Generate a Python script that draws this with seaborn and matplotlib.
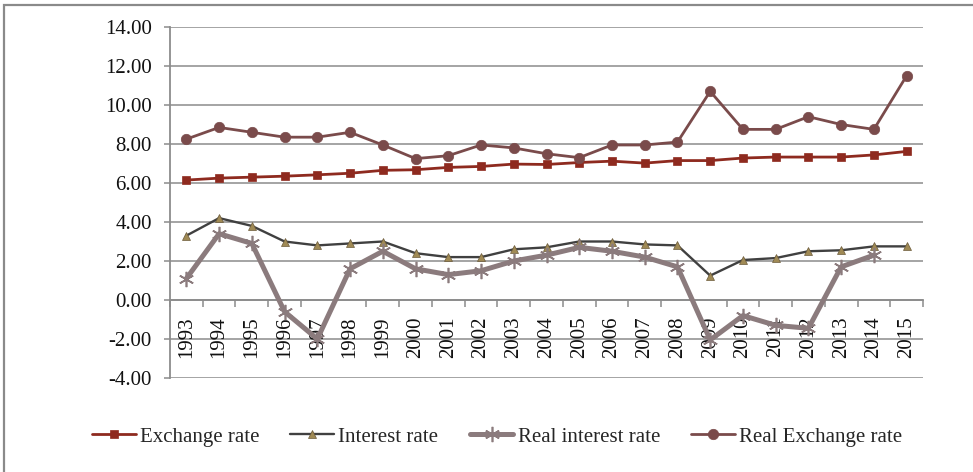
import numpy as np
import pandas as pd
import matplotlib
matplotlib.use("Agg")
import matplotlib.pyplot as plt
import seaborn as sns
from matplotlib.patches import Rectangle

# values
years = list(range(1993, 2016))
exchange_rate = [6.15, 6.25, 6.30, 6.35, 6.42, 6.50, 6.65, 6.68, 6.80, 6.85, 6.97, 6.95,
                 7.05, 7.12, 7.02, 7.15, 7.15, 7.28, 7.33, 7.33, 7.33, 7.44, 7.62]
interest_rate = [3.30, 4.20, 3.80, 3.00, 2.80, 2.90, 3.00, 2.40, 2.20, 2.20, 2.60, 2.70,
                 3.00, 3.00, 2.85, 2.80, 1.25, 2.05, 2.15, 2.50, 2.55, 2.75, 2.75]
real_interest_rate = [1.10, 3.40, 2.90, -0.60, -2.00, 1.60, 2.50, 1.60, 1.30, 1.50, 2.00, 2.30,
                      2.70, 2.50, 2.20, 1.70, -2.05, -0.80, -1.30, -1.45, 1.70, 2.30, np.nan]
real_exchange_rate = [8.25, 8.85, 8.60, 8.35, 8.35, 8.60, 7.95, 7.25, 7.40, 7.95, 7.80, 7.50,
                      7.30, 7.95, 7.95, 8.10, 10.70, 8.75, 8.75, 9.40, 9.00, 8.75, 11.50]

series = ["Exchange rate", "Interest rate", "Real interest rate", "Real Exchange rate"]
df = pd.DataFrame({"year": years,
                   "Exchange rate": exchange_rate,
                   "Interest rate": interest_rate,
                   "Real interest rate": real_interest_rate,
                   "Real Exchange rate": real_exchange_rate})

sns.set_theme(style="white")
plt.rcParams["font.family"] = ["Liberation Serif", "DejaVu Serif"]

fig = plt.figure(figsize=(9.73, 4.72), dpi=100)
ax = fig.add_axes([170/973, 1 - 378/472, (923 - 170)/973, (378 - 27)/472])

grid_col = "#8c8c8c"
for y in np.arange(-4, 15, 2):
    ax.axhline(y, color=grid_col, lw=1.1, zorder=0)

# styles per series
styles = {
    "Exchange rate": dict(color="#8e2a1f", lw=2.0, marker="s", markersize=6,
                          markerfacecolor="#8e2a1f", markeredgecolor="#8e2a1f", markeredgewidth=0.5),
    "Interest rate": dict(color="#404040", lw=1.7, marker="^", markersize=5.5,
                          markerfacecolor="#a08a55", markeredgecolor="#6b5a3a", markeredgewidth=0.5),
    "Real interest rate": dict(color="#8b7b7d", lw=3.6, marker=(6, 2, 0), markersize=11,
                               markerfacecolor="#8b7b7d", markeredgecolor="#8b7b7d", markeredgewidth=1.2),
    "Real Exchange rate": dict(color="#7a4b4b", lw=2.0, marker="o", markersize=7.5,
                               markerfacecolor="#7a4b4b", markeredgecolor="#7a4b4b", markeredgewidth=0.5),
}

for i, name in enumerate(series):
    st = styles[name]
    sub = df[["year", name]].dropna()
    sns.lineplot(data=sub, x="year", y=name, ax=ax, label=name, zorder=3 + i, **st)

ax.set_xlim(years[0] - 0.5, years[-1] + 0.5)
ax.set_ylim(-4, 14)
ax.set_xlabel("")
ax.set_ylabel("")

for s in ["top", "right"]:
    ax.spines[s].set_visible(False)
ax.spines["left"].set_color(grid_col)
ax.spines["left"].set_linewidth(1.3)
ax.spines["bottom"].set_position(("data", 0))
ax.spines["bottom"].set_color(grid_col)
ax.spines["bottom"].set_linewidth(1.3)

ax.set_yticks(np.arange(-4, 15, 2))
ax.set_yticklabels([f"{v:.2f}" for v in np.arange(-4, 15, 2)])
ax.tick_params(axis="y", which="major", direction="out", length=4, width=1.1,
               color=grid_col, pad=9, labelsize=15, labelcolor="#111111", left=True)

ax.set_xticks(years)
ax.set_xticklabels([str(y) for y in years], rotation=90)
ax.set_xticks(np.arange(years[0] - 0.5, years[-1] + 1, 1), minor=True)
ax.tick_params(axis="x", which="major", length=0, pad=12, labelsize=15, labelcolor="#111111")
ax.tick_params(axis="x", which="minor", direction="out", length=5, width=1.1,
               color=grid_col, bottom=True)
for lab in ax.get_xticklabels():
    lab.set_va("top")

handles, labels = ax.get_legend_handles_labels()
ax.get_legend().remove()
fig.legend(handles, labels, loc="center", bbox_to_anchor=(497/973, 1 - 437/472), ncol=4,
           frameon=False, fontsize=15, handlelength=2.1, handletextpad=0.2,
           columnspacing=1.5)

# outer chart frame (only top and left visible in the picture)
fig.patches.append(Rectangle((4/973, -0.1), 1.2, (472 - 5)/472 + 0.1, transform=fig.transFigure,
                             fill=False, ec="#8a8a8a", lw=1.6))

fig.savefig("out.png", dpi=100)
